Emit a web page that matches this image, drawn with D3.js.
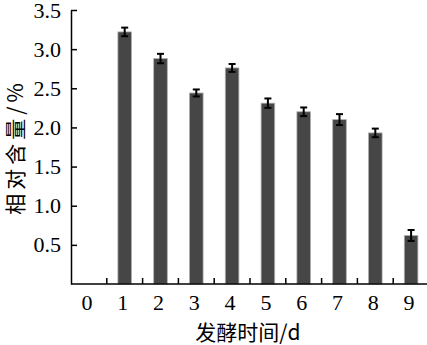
<!DOCTYPE html>
<html>
<head>
<meta charset="utf-8">
<script src="https://cdn.jsdelivr.net/npm/d3@7/dist/d3.min.js"></script>
<style>
  body { margin: 0; background: #fff; }
  svg { display: block; }
  .tick text { font-family: "Liberation Serif", "DejaVu Serif", serif; font-size: 22px; fill: #000; }
  .title { font-family: "Noto Sans CJK SC", sans-serif; font-size: 21px; fill: #000; }
</style>
</head>
<body>
<div id="chart"></div>
<script>
// fermentation day, relative content (%), error (sd)
const days = ["0", "1", "2", "3", "4", "5", "6", "7", "8", "9"];
const values = [0, 3.22, 2.88, 2.44, 2.76, 2.31, 2.20, 2.10, 1.93, 0.62];
const errors = [0, 0.055, 0.06, 0.045, 0.05, 0.06, 0.055, 0.07, 0.055, 0.07];
const yTicks = [0.5, 1.0, 1.5, 2.0, 2.5, 3.0, 3.5];

const width = 427, height = 345;
const margin = {top: 10, right: 0, bottom: 61, left: 71};

const svg = d3.select("#chart").append("svg")
    .attr("width", width)
    .attr("height", height);

const x = d3.scaleBand()
    .domain(days)
    .range([margin.left, margin.left + 358])
    .paddingInner(0.62)
    .paddingOuter(0.31);

const y = d3.scaleLinear()
    .domain([0, 3.5])
    .range([height - margin.bottom, margin.top]);

// bars
svg.append("g").selectAll("rect")
    .data(values)
    .join("rect")
    .attr("x", (d, i) => x(days[i]))
    .attr("y", d => y(d))
    .attr("width", x.bandwidth())
    .attr("height", d => y(0) - y(d))
    .attr("fill", d => d > 0 ? "#464646" : "none")
    .attr("stroke", d => d > 0 ? "#b0b0b0" : "none")
    .attr("stroke-width", 0.8);

// error bars
const eb = svg.append("g")
    .attr("stroke", "#000")
    .attr("stroke-width", 2);
values.forEach((v, i) => {
    if (v <= 0) return;
    const cx = x(days[i]) + x.bandwidth() / 2;
    const hi = y(v + errors[i]), lo = y(v - errors[i]);
    eb.append("line").attr("x1", cx).attr("x2", cx).attr("y1", hi).attr("y2", lo);
    eb.append("line").attr("x1", cx - 3.5).attr("x2", cx + 3.5).attr("y1", hi).attr("y2", hi);
    eb.append("line").attr("x1", cx - 3.5).attr("x2", cx + 3.5).attr("y1", lo).attr("y2", lo);
});

// y axis
const yAxis = svg.append("g")
    .attr("transform", `translate(${margin.left},0)`)
    .call(d3.axisLeft(y).tickValues(yTicks).tickFormat(d3.format(".1f"))
        .tickSizeInner(-6).tickSizeOuter(0).tickPadding(10));
yAxis.select(".domain").attr("stroke-width", 1.5);
yAxis.selectAll(".tick line").attr("stroke-width", 1.5);

// x axis (labels only, boundary ticks drawn separately)
const xAxis = svg.append("g")
    .attr("transform", `translate(0,${y(0)})`)
    .call(d3.axisBottom(x).tickSize(0).tickPadding(10));
xAxis.select(".domain").remove();
xAxis.selectAll(".tick text").attr("dx", -2);

const step = x.step();
svg.append("line")
    .attr("x1", margin.left).attr("x2", width)
    .attr("y1", y(0)).attr("y2", y(0))
    .attr("stroke", "#000").attr("stroke-width", 1.5);
svg.append("g").selectAll("line")
    .data(days.slice(1))
    .join("line")
    .attr("x1", d => x(d) - step * 0.31)
    .attr("x2", d => x(d) - step * 0.31)
    .attr("y1", y(0)).attr("y2", y(0) - 6)
    .attr("stroke", "#000").attr("stroke-width", 1.5);

// titles
svg.append("text")
    .attr("class", "title")
    .attr("x", 248).attr("y", 340)
    .attr("text-anchor", "middle")
    .text("发酵时间/d");

svg.append("text")
    .attr("class", "title")
    .attr("transform", `translate(23,${(margin.top + y(0)) / 2}) rotate(-90)`)
    .attr("text-anchor", "middle")
    .attr("letter-spacing", 4)
    .text("相对含量/%");
</script>
</body>
</html>
